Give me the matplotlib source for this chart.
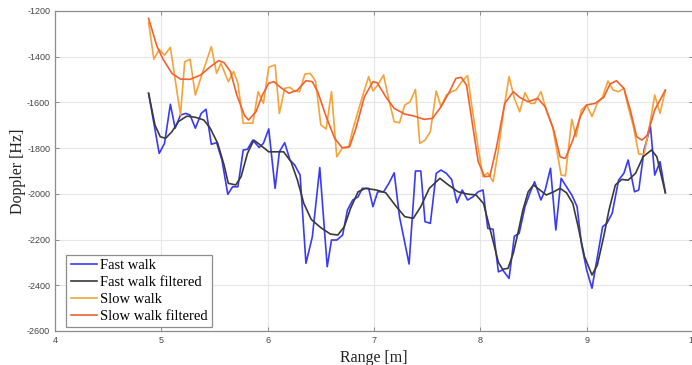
import matplotlib
matplotlib.use("Agg")
import matplotlib.pyplot as plt

plt.rcParams["axes.unicode_minus"] = False

# Fast walk, raw estimates
fast_x = [4.88, 4.98, 5.03, 5.085, 5.13, 5.18, 5.23, 5.27, 5.32, 5.375, 5.42, 5.47, 5.52,
          5.57, 5.625, 5.67, 5.72, 5.77, 5.81, 5.86, 5.92, 5.96, 6.01, 6.07, 6.11, 6.16,
          6.21, 6.255, 6.305, 6.36, 6.42, 6.49, 6.56, 6.60, 6.65, 6.705, 6.75, 6.80, 6.85,
          6.89, 6.95, 6.99, 7.035, 7.09, 7.14, 7.19, 7.24, 7.33, 7.39, 7.44, 7.48, 7.53,
          7.585, 7.63, 7.68, 7.73, 7.78, 7.83, 7.88, 7.93, 7.98, 8.025, 8.07, 8.12, 8.17,
          8.21, 8.27, 8.32, 8.365, 8.42, 8.465, 8.51, 8.57, 8.61, 8.66, 8.71, 8.76, 8.81,
          8.86, 8.91, 8.95, 9.00, 9.05, 9.09, 9.15, 9.19, 9.24, 9.30, 9.35, 9.39, 9.45,
          9.49, 9.54, 9.60, 9.64, 9.69, 9.74]
fast_y = [-1560, -1823, -1779, -1608, -1713, -1655, -1648, -1655, -1713, -1648, -1630, -1783, -1776,
          -1852, -2002, -1969, -1969, -1808, -1805, -1765, -1797, -1779, -1716, -1976, -1816, -1776,
          -1852, -1874, -1918, -2304, -2188, -1885, -2319, -2202, -2202, -2180, -2071, -2027, -2013,
          -1976, -1976, -2056, -1991, -1991, -1954, -1908, -2100, -2307, -1900, -1900, -2122, -2129,
          -1910, -1896, -1910, -1937, -2039, -1983, -2027, -2013, -1991, -1983, -2151, -2155, -2341,
          -2333, -2370, -2185, -2173, -2056, -1998, -1947, -2027, -1983, -1888, -2158, -1932, -1969,
          -2005, -2056, -2217, -2333, -2413, -2304, -2144, -2129, -2085, -1940, -1910, -1852, -1991,
          -1983, -1808, -1706, -1918, -1859, -1995]

# Fast walk, filtered
fastf_x = [4.88, 4.94, 4.99, 5.04, 5.10, 5.16, 5.24, 5.32, 5.40, 5.46, 5.53, 5.59, 5.63, 5.70,
           5.75, 5.81, 5.87, 5.93, 6.01, 6.09, 6.15, 6.22, 6.28, 6.34, 6.41, 6.50, 6.59, 6.66,
           6.72, 6.78, 6.85, 6.92, 7.02, 7.11, 7.21, 7.29, 7.37, 7.44, 7.52, 7.62, 7.70, 7.79,
           7.88, 7.96, 8.03, 8.10, 8.17, 8.21, 8.26, 8.31, 8.36, 8.40, 8.45, 8.50, 8.56, 8.62,
           8.69, 8.75, 8.81, 8.87, 8.92, 8.98, 9.05, 9.10, 9.16, 9.21, 9.27, 9.33, 9.39, 9.46,
           9.53, 9.61, 9.66, 9.74]
fastf_y = [-1560, -1699, -1750, -1757, -1728, -1684, -1660, -1665, -1677, -1713, -1779, -1874, -1954, -1961,
           -1925, -1823, -1765, -1786, -1816, -1816, -1816, -1860, -1940, -2042, -2112, -2148, -2176, -2180,
           -2144, -2063, -1991, -1976, -1983, -1995, -2056, -2100, -2107, -2056, -1976, -1932, -1961, -1991,
           -2001, -2005, -2042, -2170, -2300, -2330, -2326, -2260, -2158, -2071, -1991, -1961, -1983, -2005,
           -1991, -1976, -1995, -2042, -2144, -2275, -2355, -2312, -2188, -2071, -1961, -1937, -1940, -1910,
           -1838, -1808, -1838, -1995]

# Slow walk, raw estimates
slow_x = [4.88, 4.93, 4.98, 5.03, 5.085, 5.18, 5.22, 5.27, 5.32, 5.38, 5.47, 5.52, 5.56, 5.63,
          5.68, 5.72, 5.77, 5.86, 5.91, 5.96, 6.01, 6.07, 6.11, 6.16, 6.21, 6.25, 6.30, 6.35,
          6.40, 6.45, 6.50, 6.55, 6.60, 6.65, 6.70, 6.76, 6.80, 6.85, 6.90, 6.95, 6.99, 7.035,
          7.09, 7.14, 7.19, 7.24, 7.29, 7.34, 7.39, 7.43, 7.48, 7.53, 7.585, 7.63, 7.68, 7.73,
          7.77, 7.83, 7.88, 7.93, 7.98, 8.025, 8.07, 8.12, 8.17, 8.22, 8.27, 8.32, 8.37, 8.42,
          8.47, 8.51, 8.57, 8.62, 8.68, 8.76, 8.80, 8.86, 8.90, 8.95, 9.00, 9.05, 9.10, 9.15,
          9.20, 9.25, 9.30, 9.35, 9.39, 9.44, 9.49, 9.54, 9.59, 9.64, 9.69, 9.74]
slow_y = [-1250, -1411, -1368, -1393, -1359, -1655, -1422, -1411, -1568, -1480, -1356, -1473, -1429, -1509,
          -1465, -1516, -1691, -1691, -1553, -1604, -1446, -1436, -1648, -1538, -1534, -1550, -1553, -1476,
          -1473, -1506, -1699, -1716, -1553, -1838, -1801, -1797, -1720, -1640, -1560, -1487, -1550, -1524,
          -1480, -1590, -1684, -1689, -1611, -1597, -1543, -1779, -1765, -1728, -1550, -1619, -1568, -1553,
          -1546, -1506, -1483, -1648, -1801, -1925, -1908, -1947, -1808, -1633, -1487, -1582, -1641, -1557,
          -1604, -1604, -1553, -1633, -1706, -1918, -1921, -1674, -1750, -1633, -1611, -1662, -1604, -1575,
          -1506, -1546, -1553, -1538, -1619, -1706, -1826, -1827, -1706, -1568, -1648, -1546]

# Slow walk, filtered
slowf_x = [4.88, 4.96, 5.02, 5.10, 5.18, 5.27, 5.37, 5.46, 5.54, 5.59, 5.65, 5.71, 5.78, 5.82,
           5.89, 5.95, 6.01, 6.06, 6.12, 6.20, 6.28, 6.36, 6.42, 6.47, 6.55, 6.63, 6.70, 6.77,
           6.83, 6.91, 6.99, 7.03, 7.11, 7.19, 7.29, 7.38, 7.47, 7.55, 7.63, 7.71, 7.77, 7.82,
           7.87, 7.92, 7.98, 8.04, 8.09, 8.15, 8.23, 8.31, 8.37, 8.45, 8.54, 8.61, 8.69, 8.75,
           8.80, 8.87, 8.94, 9.00, 9.08, 9.16, 9.22, 9.28, 9.35, 9.41, 9.47, 9.52, 9.57, 9.64,
           9.74]
slowf_y = [-1232, -1356, -1414, -1473, -1498, -1499, -1480, -1444, -1417, -1426, -1465, -1568, -1655, -1677,
           -1641, -1568, -1516, -1509, -1534, -1560, -1546, -1505, -1509, -1553, -1662, -1757, -1798, -1794,
           -1713, -1575, -1509, -1514, -1575, -1626, -1651, -1660, -1674, -1670, -1619, -1553, -1495, -1490,
           -1524, -1677, -1859, -1925, -1922, -1800, -1604, -1553, -1578, -1597, -1582, -1619, -1721, -1838,
           -1845, -1765, -1662, -1611, -1604, -1578, -1519, -1505, -1538, -1633, -1750, -1765, -1743, -1633,
           -1546]

x_ticks = [4, 5, 6, 7, 8, 9, 10]
y_ticks = [-2600, -2400, -2200, -2000, -1800, -1600, -1400, -1200]

fig = plt.figure(figsize=(6.92, 3.65), dpi=100)
ax = fig.add_axes([55 / 692, 34 / 365, 638 / 692, 320 / 365])

ax.plot(fast_x, fast_y, color="#3a3af5", lw=1.2, label="Fast walk")
ax.plot(fastf_x, fastf_y, color="#3a3a3a", lw=1.2, label="Fast walk filtered")
ax.plot(slow_x, slow_y, color="#f5a33a", lw=1.2, label="Slow walk")
ax.plot(slowf_x, slowf_y, color="#f0622e", lw=1.2, label="Slow walk filtered")

ax.set_xlim(4, 10)
ax.set_ylim(-2600, -1200)
ax.set_xticks(x_ticks)
ax.set_yticks(y_ticks)
ax.grid(True, color="#e6e6e6", lw=0.8)
ax.set_axisbelow(True)

for side in ["left", "bottom", "top", "right"]:
    ax.spines[side].set_color("#8c8c8c")
    ax.spines[side].set_linewidth(0.9)
ax.tick_params(direction="in", length=3, width=0.7, color="#8c8c8c",
               top=True, right=True, labelsize=6.5, labelcolor="#444444")
for lab in ax.get_xticklabels() + ax.get_yticklabels():
    lab.set_family("Liberation Sans")

ax.set_xlabel("Range [m]", family="Liberation Serif", fontsize=11.5, color="#222222", labelpad=4)
ax.set_ylabel("Doppler [Hz]", family="Liberation Serif", fontsize=11.5, color="#222222", labelpad=1)

leg = ax.legend(loc="lower left", bbox_to_anchor=(0.018, 0.012), borderaxespad=0,
                prop={"family": "Liberation Serif", "size": 10.5}, fancybox=False,
                framealpha=1, edgecolor="#8c8c8c", handlelength=1.8, handletextpad=0.2,
                labelspacing=0.25, borderpad=0.3)
leg.get_frame().set_linewidth(0.9)

fig.savefig("out.png", dpi=100)
